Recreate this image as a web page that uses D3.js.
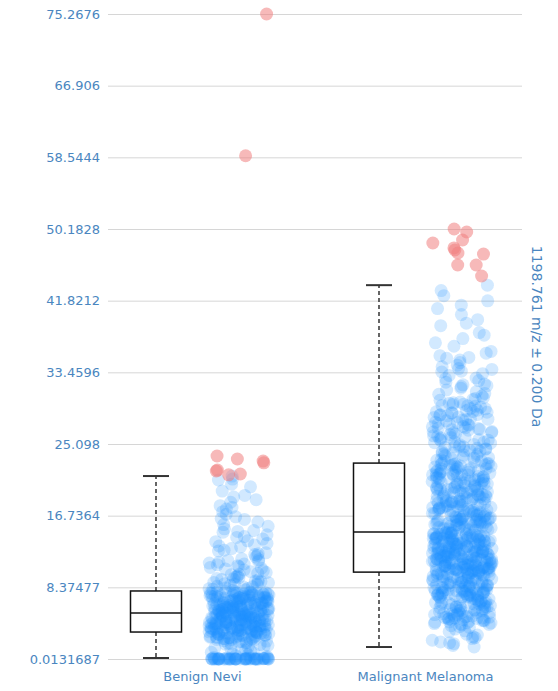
<!DOCTYPE html>
<html>
<head>
<meta charset="utf-8">
<script src="https://cdn.jsdelivr.net/npm/d3@7"></script>
<style>
  html, body { margin: 0; padding: 0; background: #fff; }
  svg { display: block; font-family: Verdana, "DejaVu Sans", sans-serif; }
</style>
</head>
<body>
<svg id="chart" width="558" height="691"></svg>
<script>
// Intensity of the 1198.761 m/z peak per sample, grouped by diagnosis
const categories = ["Benign Nevi", "Malignant Melanoma"];

const benignValues = [
  0.01,0.01,0.02,0.01,0.05,0.01,0.03,0.1,0.01,0.02,0.01,0.08,0.01,0.04,0.01,0.02,0.12,0.01,0.01,0.06,
  0.02,0.01,0.15,0.01,0.03,0.01,0.02,0.09,0.01,0.01,0.04,0.2,0.01,0.02,0.01,
  0.3,0.6,1.2,2.4,2.9,1.8,3.0,2.2,0.4,2.7,1.5,2.5,3.1,2.0,0.9,2.8,1.7,2.6,2.1,0.5,
  3.05,2.3,1.4,2.9,2.6,1.9,0.7,2.4,3.1,2.2,1.1,2.8,2.5,1.6,3.0,
  3.2,4.1,5.0,3.7,4.6,3.4,5.3,4.3,3.9,4.8,3.3,4.0,5.1,4.4,3.6,4.9,3.5,4.2,5.2,3.8,
  4.7,3.25,4.5,5.35,3.95,4.05,3.45,4.85,5.15,3.65,4.25,4.95,3.85,4.35,5.05,3.55,4.15,4.75,3.3,4.45,
  5.25,3.75,4.55,3.35,4.65,5.1,3.9,4.3,3.6,4.9,5.3,3.4,4.2,4.8,3.7,4.0,5.0,4.6,3.5,4.4,
  3.8,4.1,5.2,3.2,4.7,3.6,4.5,5.3,3.9,4.3,
  5.4,6.2,7.1,5.9,6.8,7.6,5.6,6.5,7.3,6.0,7.9,5.8,6.6,7.4,6.3,5.5,7.0,6.9,7.7,5.7,
  6.1,7.2,6.4,5.45,7.85,6.7,7.5,5.95,6.35,7.15,6.85,5.65,7.45,6.05,7.75,5.85,6.55,7.25,6.15,7.65,
  5.5,6.95,7.35,6.45,5.75,7.05,6.25,7.55,6.75,5.6,7.8,6.0,6.6,7.3,5.9,6.9,7.1,6.3,7.6,5.4,
  6.5,7.4,6.7,5.8,7.0,6.2,7.7,6.4,5.5,7.2,
  8.1,9.4,10.8,8.6,11.5,9.0,8.3,10.2,11.9,9.7,8.9,10.5,8.2,11.2,9.2,8.5,10.0,9.9,11.7,8.8,
  10.6,9.5,8.4,11.0,9.1,10.3,8.7,11.4,9.6,10.9,8.0,9.3,
  12.4,13.8,15.2,16.6,12.9,14.5,13.1,16.0,12.2,15.7,14.0,13.5,16.9,12.7,15.0,14.3,13.3,16.3,12.1,14.8,
  17.5,18.9,20.4,17.9,19.6,21.36,18.3,20.9,17.2,19.1,20.1,18.6,21.0,17.7,
  0.01,0.01,0.03,0.01,0.02,0.01,0.07,0.01,0.01,0.02,0.05,0.01,0.01,0.03,0.01,
  2.45,2.85,1.3,2.65,3.12,2.05,2.75,0.8,2.35,2.95,1.95,2.55,3.08,2.15,1.0,2.7,2.3,2.9,1.75,2.6,
  3.02,2.4,1.85,2.8,2.5,
  3.28,4.62,5.08,3.72,4.18,4.88,3.42,5.22,4.02,3.58,4.48,5.32,3.88,4.68,3.22,4.38,5.12,3.62,4.08,4.92,
  3.48,4.78,5.02,3.82,4.28,3.38,4.58,5.18,3.68,4.12,4.98,3.52,4.42,5.28,3.92,4.22,3.18,4.72,5.06,3.78,
  4.52,3.32,4.82,5.14,3.98,
  5.42,6.28,7.18,5.92,6.72,7.58,5.62,6.48,7.38,6.08,7.88,5.82,6.58,7.42,6.32,5.52,7.02,6.88,7.72,5.72,
  6.18,7.22,6.42,5.48,7.82,6.68,7.52,5.98,6.38,7.12,6.82,5.68,7.48,6.02,7.68,5.88,6.52,7.28,6.12,7.62,
  5.58,6.92,7.32,6.22,5.78,
  8.15,9.85,10.4,8.45,11.1,9.35,8.75,10.7,9.05,11.6,8.25,9.55,10.1,8.95,11.3,
  12.6,14.2,15.5,13.2,16.4,12.3,14.9,13.7
];

const melanomaValues = [
  1.41,2.2,3.5,1.9,2.8,3.9,2.5,1.6,3.2,2.0,3.7,2.9,
  4.2,5.6,6.8,4.9,6.1,5.2,4.5,6.5,5.9,4.0,6.9,5.4,4.7,6.3,5.0,4.3,6.7,5.7,4.8,6.0,
  5.3,4.1,6.6,5.8,4.6,6.2,5.1,4.4,6.4,5.5,6.85,4.9,5.95,4.25,6.15,5.35,4.75,6.55,
  7.2,8.5,9.8,7.6,9.1,8.0,10.1,7.4,8.8,9.5,7.9,8.3,9.9,7.1,8.6,9.3,7.7,8.1,10.0,7.3,
  8.9,9.6,7.8,8.4,9.2,7.5,10.05,8.7,9.0,7.0,8.2,9.7,7.65,8.55,9.4,7.35,8.95,9.85,7.85,8.15,
  9.15,7.45,8.45,9.55,7.25,8.75,9.35,7.95,8.05,9.65,
  10.2,11.4,12.8,13.9,10.7,12.1,14.5,11.0,13.3,12.5,10.4,14.1,11.7,13.6,12.3,10.9,14.7,11.2,13.0,12.9,
  10.3,11.8,14.3,12.6,10.6,13.8,11.5,14.0,12.2,10.8,13.4,11.1,14.6,12.7,10.5,13.1,11.9,14.2,12.4,10.25,
  11.3,13.7,12.0,14.8,10.95,11.6,13.2,12.35,14.4,10.45,11.85,13.5,12.65,10.75,14.15,11.25,13.95,12.15,10.35,11.55,
  13.25,14.55,12.85,10.65,11.95,13.65,12.45,14.35,10.85,11.45,13.15,12.75,14.05,10.55,11.75,13.45,12.25,14.65,10.15,11.15,
  13.85,12.55,14.25,10.9,11.65,13.35,12.05,14.75,10.4,11.35,13.05,12.95,14.45,10.7,11.05,13.55,12.6,14.1,11.9,13.75,
  15.1,17.3,19.8,21.5,16.2,18.6,22.4,15.7,20.3,17.9,16.8,21.0,19.2,15.4,22.8,18.1,16.5,20.7,17.6,19.5,
  15.9,21.9,18.9,16.0,22.1,17.1,20.0,15.3,19.0,21.3,16.6,18.3,22.6,15.6,20.5,17.4,19.7,16.3,21.7,18.7,
  15.0,22.3,17.8,20.9,16.9,19.3,15.8,21.1,18.0,16.4,22.7,17.2,20.2,15.5,19.9,21.6,16.1,18.4,22.0,17.7,
  15.2,20.6,18.8,16.7,21.4,19.4,15.95,22.5,17.5,20.1,16.25,18.2,21.8,19.1,15.65,22.2,17.0,20.8,16.55,18.5,
  15.35,21.2,19.6,17.35,22.85,16.75,20.4,18.35,15.85,21.45,19.25,17.65,16.15,22.65,18.95,20.55,15.25,17.95,21.05,19.75,
  23.1,25.6,28.2,24.3,26.9,29.5,23.7,27.4,25.0,28.8,24.8,26.2,29.9,23.4,27.9,25.3,28.5,24.0,26.5,29.2,
  23.9,27.1,25.8,28.0,24.5,26.7,29.7,23.2,27.6,25.2,28.7,24.2,26.0,29.0,23.5,27.3,25.5,28.4,24.7,26.4,
  29.4,23.0,27.8,25.9,28.9,24.6,26.8,29.6,23.8,27.0,
  30.4,32.8,35.1,31.2,33.9,30.9,34.6,32.1,35.7,31.6,33.3,30.2,34.1,32.5,35.4,31.9,33.6,30.7,34.9,32.3,
  31.4,33.1,35.9,30.0,
  36.5,38.9,41.3,37.4,40.2,43.63,36.9,39.6,42.4,38.1,41.8,40.9,43.0,39.2,37.8,
  2.6,3.3,1.8,3.8,2.4,
  4.15,5.65,6.75,4.95,6.05,5.25,4.55,6.45,5.85,4.05,6.95,5.45,4.65,6.35,5.05,4.35,6.65,5.75,4.85,6.25,
  5.15,4.45,6.55,5.55,4.8,6.1,5.3,4.6,6.4,5.7,
  7.15,8.45,9.75,7.55,9.05,8.05,10.08,7.45,8.85,9.45,7.95,8.35,9.95,7.05,8.65,9.25,7.75,8.15,9.98,7.35,
  8.95,9.65,7.85,8.25,9.15,7.65,10.12,8.75,9.35,7.25,8.55,9.55,7.6,8.6,9.8,7.4,8.0,9.9,7.7,8.3,
  9.2,7.5,8.8,9.5,7.9,
  10.22,11.42,12.82,13.92,10.72,12.12,14.52,11.02,13.32,12.52,10.42,14.12,11.72,13.62,12.32,10.92,14.72,11.22,13.02,12.92,
  10.32,11.82,14.32,12.62,10.62,13.82,11.52,14.02,12.22,10.82,13.42,11.12,14.62,12.72,10.52,13.12,11.92,14.22,12.42,10.28,
  11.32,13.72,12.02,14.78,10.98,11.62,13.22,12.38,14.42,10.48,11.88,13.52,12.68,10.78,14.18,11.28,13.98,12.18,10.38,11.58,
  13.28,14.58,12.88,10.68,11.98,13.68,12.48,14.38,10.88,11.48,13.18,12.78,14.08,10.58,11.78,13.48,12.28,14.68,10.18,11.18,
  13.88,12.58,14.28,10.94,11.68,13.38,12.08,14.48,10.44,11.38,
  15.12,17.32,19.82,21.52,16.22,18.62,22.42,15.72,20.32,17.92,16.82,21.02,19.22,15.42,22.82,18.12,16.52,20.72,17.62,19.52,
  15.92,21.92,18.92,16.02,22.12,17.12,20.02,15.32,19.02,21.32,16.62,18.32,22.62,15.62,20.52,17.42,19.72,16.32,21.72,18.72,
  15.02,22.32,17.82,20.92,16.92,19.32,15.82,21.12,18.02,16.42,22.72,17.22,20.22,15.52,19.92,21.62,16.12,18.42,22.02,17.72,
  15.22,20.62,18.82,16.72,21.42,19.42,15.98,22.52,17.52,20.12,16.28,18.22,21.82,19.12,15.68,22.22,17.02,20.82,16.58,18.52,
  15.38,21.22,19.62,17.38,22.78,16.78,20.42,18.38,15.88,21.48,
  23.15,25.65,28.25,24.35,26.95,29.55,23.75,27.45,25.05,28.85,24.85,26.25,29.85,23.45,27.95,25.35,28.55,24.05,26.55,29.25,
  23.95,27.15,25.85,28.05,24.55,26.75,29.75,23.25,27.65,25.25,28.75,24.25,26.05,29.05,23.55,27.35,25.55,28.45,24.75,26.45,
  31.0,33.5,30.5,34.3,32.0,35.2,31.8,33.8,30.3,32.7
];

// Samples flagged as outliers (drawn in red)
const benignOutliers = [21.6, 21.95, 23.35, 23.1, 22.9, 21.5, 22.06, 23.7, 75.2676, 58.73];
const melanomaOutliers = [44.7, 45.98, 50.18, 47.97, 47.73, 47.38, 49.83, 45.98, 48.9, 48.55, 47.26];

// Box plot summary per category
const whiskerLow  = [0.13, 1.41];
const quartile1   = [3.16, 10.15];
const medians     = [5.37, 14.82];
const quartile3   = [7.95, 22.87];
const whiskerHigh = [21.36, 43.63];

const tickValues = [0.0131687, 8.37477, 16.7364, 25.098, 33.4596, 41.8212, 50.1828, 58.5444, 66.906, 75.2676];
const axisTitle = "1198.761 m/z \u00b1 0.200 Da";

const labelColor = "#4a86c0";
const plotLeft = 108, plotRight = 522, plotTop = 14, plotBottom = 659;

const svg = d3.select("#chart");

const y = d3.scaleLinear()
  .domain([tickValues[0], tickValues[tickValues.length - 1]])
  .range([plotBottom, plotTop]);

const x = d3.scaleBand()
  .domain(categories)
  .range([91, 537]);

// Horizontal grid lines
const grid = svg.append("g")
  .attr("transform", `translate(${plotLeft},0)`)
  .call(d3.axisRight(y).tickValues(tickValues).tickSize(plotRight - plotLeft).tickFormat(""));
grid.select(".domain").remove();
grid.selectAll("line").attr("stroke", "#d6d6d6").attr("stroke-width", 1);

// Y axis labels
const yAxis = svg.append("g")
  .attr("transform", `translate(${plotLeft},0)`)
  .call(d3.axisLeft(y).tickValues(tickValues).tickSize(0).tickPadding(8).tickFormat(d => String(d)));
yAxis.select(".domain").remove();
yAxis.selectAll("text")
  .attr("fill", labelColor)
  .style("font-size", "13px")
  .style("font-family", "Verdana, 'DejaVu Sans', sans-serif");

// Category labels
const xAxis = svg.append("g")
  .attr("transform", `translate(0,${plotBottom})`)
  .call(d3.axisBottom(x).tickSize(0).tickPadding(13));
xAxis.select(".domain").remove();
xAxis.selectAll("text")
  .attr("fill", labelColor)
  .style("font-size", "13px")
  .style("font-family", "Verdana, 'DejaVu Sans', sans-serif");

// Right-hand measurement title
svg.append("text")
  .attr("transform", `translate(532,${(plotTop + plotBottom) / 2}) rotate(90)`)
  .attr("text-anchor", "middle")
  .attr("fill", labelColor)
  .style("font-size", "14px")
  .text(axisTitle);

// Box plots
const boxOffset = -46.5, boxWidth = 51, capWidth = 26;
const boxes = svg.append("g");
categories.forEach((c, i) => {
  const cx = x(c) + x.bandwidth() / 2 + boxOffset;
  const g = boxes.append("g");
  // whiskers
  g.append("line")
    .attr("x1", cx).attr("x2", cx)
    .attr("y1", y(quartile3[i])).attr("y2", y(whiskerHigh[i]))
    .attr("stroke", "#333").attr("stroke-width", 1.5).attr("stroke-dasharray", "4,3");
  g.append("line")
    .attr("x1", cx).attr("x2", cx)
    .attr("y1", y(quartile1[i])).attr("y2", y(whiskerLow[i]))
    .attr("stroke", "#333").attr("stroke-width", 1.5).attr("stroke-dasharray", "4,3");
  // caps
  [whiskerHigh[i], whiskerLow[i]].forEach(v => {
    g.append("line")
      .attr("x1", cx - capWidth / 2).attr("x2", cx + capWidth / 2)
      .attr("y1", y(v)).attr("y2", y(v))
      .attr("stroke", "#333").attr("stroke-width", 2);
  });
  // box
  g.append("rect")
    .attr("x", cx - boxWidth / 2)
    .attr("y", y(quartile3[i]))
    .attr("width", boxWidth)
    .attr("height", y(quartile1[i]) - y(quartile3[i]))
    .attr("fill", "#fff").attr("stroke", "#111").attr("stroke-width", 1.5);
  g.append("line")
    .attr("x1", cx - boxWidth / 2).attr("x2", cx + boxWidth / 2)
    .attr("y1", y(medians[i])).attr("y2", y(medians[i]))
    .attr("stroke", "#111").attr("stroke-width", 1.5);
});

// Jittered sample points: horizontal spread from a hash of the index
function jitter(i, seed) {
  let h = Math.imul((i + seed * 7919) ^ 0x9e3779b9, 0x85ebca6b);
  h ^= h >>> 13;
  h = Math.imul(h, 0xc2b2ae35);
  h ^= h >>> 16;
  return (h >>> 0) / 4294967296;
}
function outlierJitter(i, seed) {
  const s = Math.sin(i * 78.233 + seed * 12.9898) * 43758.5453;
  return s - Math.floor(s);
}
const pointOffset = 36.5, spread = 30, radius = 6.5;
const groups = [
  { values: benignValues, outliers: benignOutliers },
  { values: melanomaValues, outliers: melanomaOutliers }
];
const points = svg.append("g");
groups.forEach((grp, gi) => {
  const cx = x(categories[gi]) + x.bandwidth() / 2 + pointOffset;
  points.append("g").selectAll("circle")
    .data(grp.values)
    .join("circle")
    .attr("cx", (d, i) => cx + (jitter(i, gi + 1) * 2 - 1) * spread)
    .attr("cy", d => y(d))
    .attr("r", radius)
    .attr("fill", "#1e90ff")
    .attr("fill-opacity", 0.2);
  points.append("g").selectAll("circle")
    .data(grp.outliers)
    .join("circle")
    .attr("cx", (d, i) => cx + (outlierJitter(i + 500, gi + 7) * 2 - 1) * spread)
    .attr("cy", d => y(d))
    .attr("r", radius)
    .attr("fill", "#f08080")
    .attr("fill-opacity", 0.55);
});
</script>
</body>
</html>
